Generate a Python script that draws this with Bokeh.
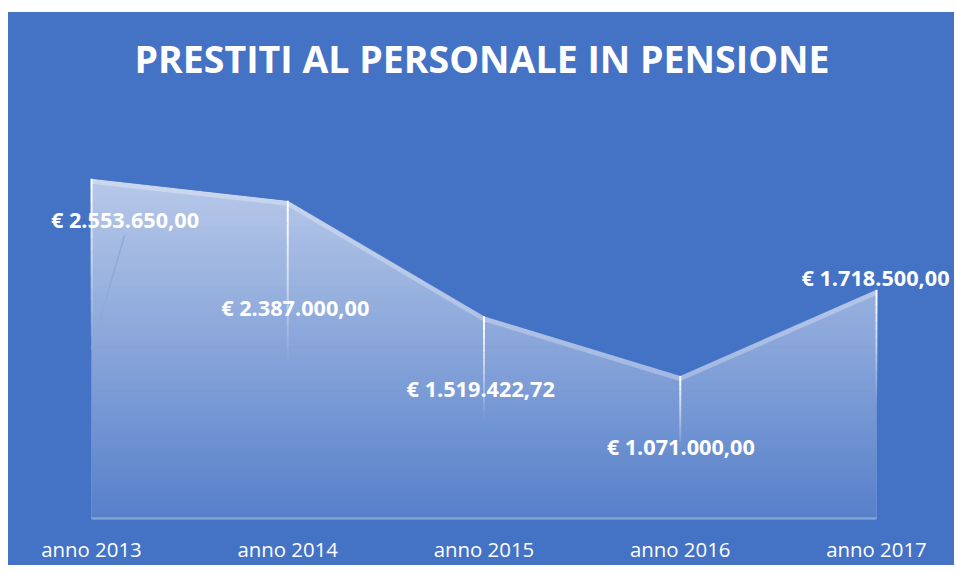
import numpy as np
from bokeh.plotting import figure
from bokeh.models import Range1d, FixedTicker, ColumnDataSource, Label, Spacer
from bokeh.layouts import column, row
from bokeh.embed import file_html
from bokeh.resources import INLINE
from bokeh.core.properties import value

# ---- data ----
years = ["anno 2013", "anno 2014", "anno 2015", "anno 2016", "anno 2017"]
amounts = [2553650.00, 2387000.00, 1519422.72, 1071000.00, 1718500.00]
value_labels = ["€ 2.553.650,00", "€ 2.387.000,00", "€ 1.519.422,72",
                "€ 1.071.000,00", "€ 1.718.500,00"]
title_text = "PRESTITI AL PERSONALE IN PENSIONE"

# ---- style / layout ----
BLUE = "#4472C4"
W, H = 946, 553
PX = 7500.0            # y units per pixel
XPX = 196.25           # pixels per category step
x_idx = list(range(len(years)))
x_start = -83.0 / XPX
x_end = x_start + W / XPX
top = max(amounts)

p = figure(width=W, height=H, output_backend="svg", toolbar_location=None,
           x_range=Range1d(x_start, x_end), y_range=Range1d(-6 * PX, 507 * PX),
           y_axis_location=None,
           min_border_left=0, min_border_right=0, min_border_top=0, min_border_bottom=40,
           background_fill_color=BLUE, border_fill_color=BLUE, outline_line_color=None)
p.styles = {"background-color": BLUE}
p.xgrid.visible = False
p.ygrid.visible = False

ax = p.xaxis[0]
ax.ticker = FixedTicker(ticks=x_idx)
ax.major_label_overrides = {i: years[i] for i in x_idx}
ax.axis_line_color = None
ax.major_tick_line_color = None
ax.minor_tick_line_color = None
ax.major_tick_out = 0
ax.major_tick_in = 0
ax.major_label_standoff = 10
ax.major_label_text_color = "white"
ax.major_label_text_font = "Open Sans"
ax.major_label_text_font_size = "20.4px"

# area with white fill
A_TOP, A_BOT = 0.62, 0.10
p.varea(x=x_idx, y1=[0] * len(amounts), y2=amounts, fill_color="white", fill_alpha=A_TOP)

# gradient overlay (blue with alpha increasing downwards) -> gradient look of the area
N = 120
t = np.linspace(0, 1, N)
a = A_BOT + (A_TOP - A_BOT) * t
b = 1 - a / A_TOP
img = np.zeros((N, 1), dtype=np.uint32)
view = img.view(dtype=np.uint8).reshape((N, 1, 4))
view[:, 0, 0] = 0x44
view[:, 0, 1] = 0x72
view[:, 0, 2] = 0xC4
view[:, 0, 3] = np.clip(b * 255, 0, 255).astype(np.uint8)
p.image_rgba(image=[img], x=x_idx[0], y=0, dw=x_idx[-1] - x_idx[0], dh=top)

# restore plain background above the area (hide overlay there)
p.patch(x=x_idx + [x_idx[-1], x_idx[0]], y=amounts + [top * 1.02, top * 1.02],
        fill_color=BLUE, line_color=None)

# light band along the top edge
p.line(x_idx, [v - 2.5 * PX for v in amounts], line_color="white", line_alpha=0.28, line_width=5)

# baseline
p.segment(x0=[x_idx[0]], y0=[0], x1=[x_idx[-1]], y1=[0],
          line_color="white", line_alpha=0.22, line_width=3)

# drop lines (fading), from value to value/2
nseg = 14
x0s, y0s, x1s, y1s, als = [], [], [], [], []
for xi, v in zip(x_idx, amounts):
    for k in range(nseg):
        ya = v - (v / 2) * k / nseg
        yb = v - (v / 2) * (k + 1) / nseg
        x0s.append(xi); x1s.append(xi); y0s.append(ya); y1s.append(yb)
        als.append(1.0 - 0.95 * k / (nseg - 1))
p.segment(x0=x0s, y0=y0s, x1=x1s, y1=y1s, line_color="white", line_alpha=als, line_width=2)

# leader line of first label
p.segment(x0=[x_idx[0] + 33 / XPX], y0=[amounts[0] - 57 * PX], x1=[x_idx[0]], y1=[amounts[0] / 2],
          line_color="#8EA9DB", line_width=1.5)

# value labels
dx = [33.5, 7.5, -3.3, 0.5, -1.0]
dy = [40.5, 107.0, 72.6, 71.0, -12.0]
src = ColumnDataSource(dict(x=x_idx, y=amounts, t=value_labels, dx=dx, dy=dy))
p.text(x="x", y="y", text="t", x_offset="dx", y_offset="dy", source=src,
       text_color="white", text_font=value("Open Sans"), text_font_style="bold",
       text_font_size="21.7px", text_align="center", text_baseline="middle")

# title
p.add_layout(Label(x=x_start + 473.5 / XPX, y=461 * PX, text=title_text,
                   text_color="white", text_font="Open Sans", text_font_style="bold",
                   text_font_size="37.5px", text_align="center", text_baseline="middle"))

layout = column(Spacer(width=W + 8, height=12), row(Spacer(width=8, height=H), p))
open("out.html", "w").write(file_html(layout, INLINE))
